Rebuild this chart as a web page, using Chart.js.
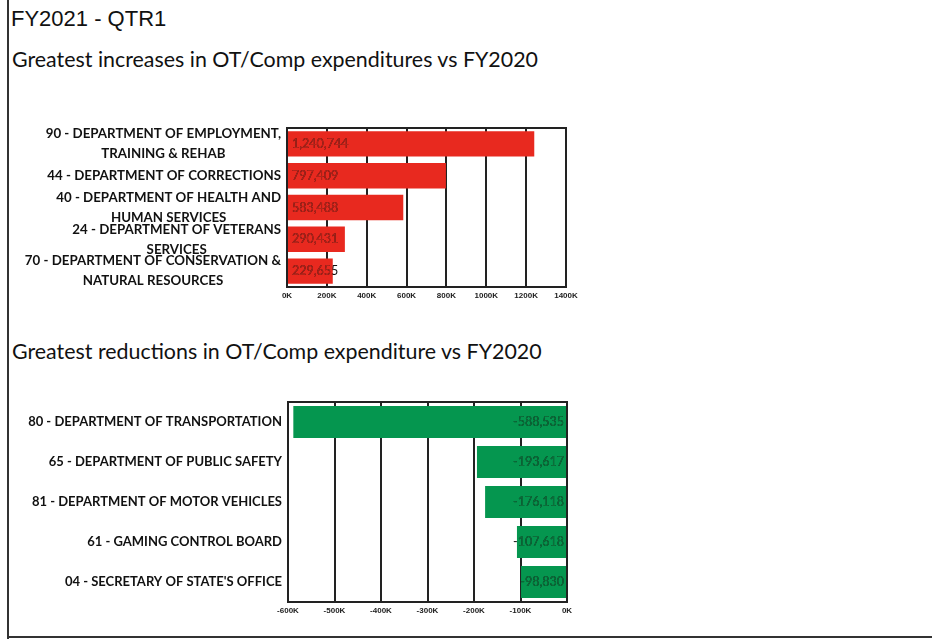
<!DOCTYPE html>
<html>
<head>
<meta charset="utf-8">
<script src="https://cdn.jsdelivr.net/npm/chart.js@4"></script>
<style>
    html, body { margin: 0; padding: 0; background: #fff; }
    body { width: 932px; height: 641px; position: relative; overflow: hidden; }
    .frame-left { position: absolute; left: 7px; top: 0; width: 2px; height: 639px; background: #333; }
    .frame-bottom { position: absolute; left: 7px; top: 636px; width: 925px; height: 2px; background: #333; }
    .title { position: absolute; left: 11px; top: 6px; font: 22px "Liberation Sans", Arial, sans-serif; color: #111; }
    .sub { position: absolute; left: 12px; font: 21.4px Lato, "Open Sans", sans-serif; color: #111; }
    .box { position: absolute; left: 0; width: 600px; }
</style>
</head>
<body>
<div class="frame-left"></div>
<div class="frame-bottom"></div>
<div class="title">FY2021 - QTR1</div>
<div class="sub" style="top:46px">Greatest increases in OT/Comp expenditures vs FY2020</div>
<div class="sub" style="top:338px">Greatest reductions in OT/Comp expenditure vs FY2020</div>
<div class="box" style="top:118px;height:187px"><canvas id="upChart"></canvas></div>
<div class="box" style="top:390px;height:230px"><canvas id="downChart"></canvas></div>

<script>
// === Données ===
const incLabels = [
    ['90 - DEPARTMENT OF EMPLOYMENT,', 'TRAINING & REHAB'],
    ['44 - DEPARTMENT OF CORRECTIONS'],
    ['40 - DEPARTMENT OF HEALTH AND', 'HUMAN SERVICES'],
    ['24 - DEPARTMENT OF VETERANS', 'SERVICES'],
    ['70 - DEPARTMENT OF CONSERVATION &', 'NATURAL RESOURCES']
];
const incValues = [1240744, 797409, 583488, 290431, 229655];

const decLabels = [
    ['80 - DEPARTMENT OF TRANSPORTATION'],
    ['65 - DEPARTMENT OF PUBLIC SAFETY'],
    ['81 - DEPARTMENT OF MOTOR VEHICLES'],
    ['61 - GAMING CONTROL BOARD'],
    ["04 - SECRETARY OF STATE'S OFFICE"]
];
const decValues = [-588535, -193617, -176118, -107618, -98830];

const incTicks = [0, 200000, 400000, 600000, 800000, 1000000, 1200000, 1400000];
const decTicks = [-600000, -500000, -400000, -300000, -200000, -100000, 0];

// === Plugins ===
const frameBox = {
    id: 'frameBox',
    afterDraw(chart) {
        const a = chart.chartArea, ctx = chart.ctx;
        ctx.save();
        ctx.strokeStyle = '#222';
        ctx.lineWidth = 2;
        ctx.strokeRect(a.left, a.top, a.right - a.left, a.bottom - a.top);
        ctx.restore();
    }
};

// libellés des catégories : blocs alignés à droite, lignes centrées
const catLabels = {
    id: 'catLabels',
    afterDraw(chart, args, opts) {
        const ctx = chart.ctx, y = chart.scales.y;
        const labels = chart.data.labels;
        ctx.save();
        ctx.font = opts.font;
        ctx.fillStyle = '#111';
        ctx.textBaseline = 'middle';
        ctx.textAlign = 'center';
        labels.forEach((lines, i) => {
            const cy = y.getPixelForTick(i);
            const w = Math.max(...lines.map(l => ctx.measureText(l).width));
            const cx = opts.right - w / 2;
            const h = opts.lineHeight;
            lines.forEach((l, k) => {
                ctx.fillText(l, cx, cy + (k - (lines.length - 1) / 2) * h);
            });
        });
        ctx.restore();
    }
};

// valeurs sur les barres
const barValues = {
    id: 'barValues',
    afterDatasetsDraw(chart, args, opts) {
        const ctx = chart.ctx;
        const meta = chart.getDatasetMeta(0);
        const data = chart.data.datasets[0].data;
        ctx.save();
        ctx.font = opts.font;
        ctx.textBaseline = 'middle';
        meta.data.forEach((bar, i) => {
            const txt = data[i].toLocaleString('en-US');
            let tx;
            if (opts.side === 'start') {
                ctx.textAlign = 'left';
                tx = bar.base + 4;
            } else {
                ctx.textAlign = 'right';
                tx = bar.base - 2;
            }
            ctx.fillStyle = '#111';
            ctx.fillText(txt, tx, bar.y);
            const x0 = Math.min(bar.x, bar.base), x1 = Math.max(bar.x, bar.base);
            ctx.save();
            ctx.beginPath();
            ctx.rect(x0, bar.y - bar.height / 2, x1 - x0, bar.height);
            ctx.clip();
            ctx.fillStyle = opts.color;
            ctx.fillText(txt, tx, bar.y);
            ctx.restore();
        });
        ctx.restore();
    }
};

function makeChart(id, labels, values, ticks, color, valueColor, side, pad, yWidth, labelFont, lineH, labelRight) {
    return new Chart(document.getElementById(id), {
        type: 'bar',
        data: {
            labels: labels,
            datasets: [{
                data: values,
                backgroundColor: color,
                barPercentage: 0.8,
                categoryPercentage: 1
            }]
        },
        options: {
            indexAxis: 'y',
            responsive: true,
            maintainAspectRatio: false,
            animation: false,
            layout: { padding: pad },
            plugins: {
                legend: { display: false },
                tooltip: { enabled: false },
                catLabels: { font: labelFont, right: labelRight, lineHeight: lineH },
                barValues: { font: '12.5px Lato, sans-serif', color: valueColor, side: side }
            },
            scales: {
                x: {
                    min: ticks[0],
                    max: ticks[ticks.length - 1],
                    afterBuildTicks: s => { s.ticks = ticks.map(v => ({ value: v })); },
                    grid: { color: '#222', lineWidth: 2, drawTicks: false },
                    border: { display: false },
                    ticks: {
                        padding: 4,
                        color: '#222',
                        font: { family: 'Liberation Sans', size: 8, weight: 'bold' },
                        callback: v => (v / 1000) + 'K'
                    },
                    afterFit: s => { s.height = 18; }
                },
                y: {
                    grid: { display: false },
                    border: { display: false },
                    ticks: { display: false },
                    afterFit: s => { s.width = yWidth; }
                }
            }
        },
        plugins: [frameBox, catLabels, barValues]
    });
}

makeChart('upChart', incLabels, incValues, incTicks, '#e8291f', '#b3241a', 'start',
    { left: 0, right: 34, top: 10, bottom: 0 }, 287, 'bold 13.3px Lato, sans-serif', 20, 281);
makeChart('downChart', decLabels, decValues, decTicks, '#05964f', '#0c6e3a', 'end',
    { left: 0, right: 33, top: 12, bottom: 0 }, 288, 'bold 13px Lato, sans-serif', 20, 282);
</script>
</body>
</html>
